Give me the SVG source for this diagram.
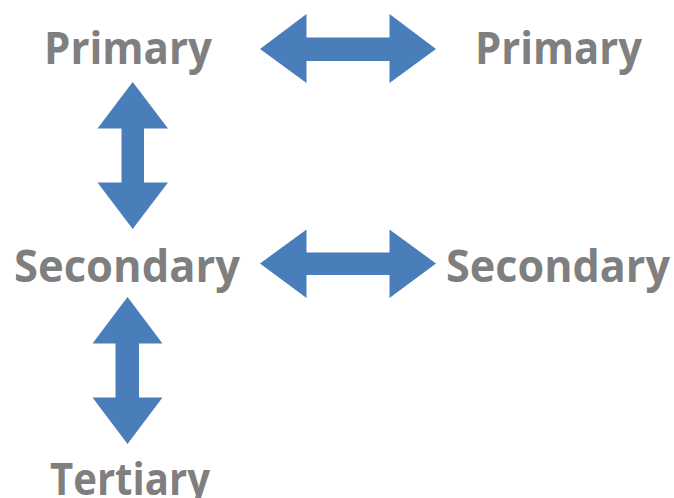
<svg xmlns="http://www.w3.org/2000/svg" width="674" height="498" viewBox="0 0 674 498">
<style>
.t{font-family:"Open Sans","Noto Sans","Liberation Sans",sans-serif;font-weight:bold;font-size:44px;fill:#7f7f7f}
.a{fill:#4a7ebb}
</style>
<rect width="674" height="498" fill="#ffffff"/>
<g id="primary-left"><text class="t" x="44" y="64" textLength="168" lengthAdjust="spacingAndGlyphs">Primary</text></g>
<g id="primary-right"><text class="t" x="475" y="64" textLength="167" lengthAdjust="spacingAndGlyphs">Primary</text></g>
<g id="secondary-left"><text class="t" x="14" y="282" textLength="226" lengthAdjust="spacingAndGlyphs">Secondary</text></g>
<g id="secondary-right"><text class="t" x="446" y="282" textLength="224" lengthAdjust="spacingAndGlyphs">Secondary</text></g>
<g id="tertiary"><text class="t" x="50" y="495" textLength="160" lengthAdjust="spacingAndGlyphs">Tertiary</text></g>
<g id="connectors">
<polygon class="a" points="260,49 306.5,14 306.5,37.5 389.5,37.5 389.5,14 436,49 389.5,83 389.5,61 306.5,61 306.5,83"/>
<polygon class="a" points="260,263.5 306.5,229.5 306.5,252.5 389.5,252.5 389.5,229.5 436,263.5 389.5,298 389.5,275 306.5,275 306.5,298"/>
<polygon class="a" points="132.7,82 168,128.5 144,128.5 144,182.5 168,182.5 132.7,229 97.5,182.5 121.5,182.5 121.5,128.5 97.5,128.5"/>
<polygon class="a" points="127.5,297 162.5,343.5 139,343.5 139,397.5 162.5,397.5 127.5,444 92.5,397.5 115.5,397.5 115.5,343.5 92.5,343.5"/>
</g>
</svg>
